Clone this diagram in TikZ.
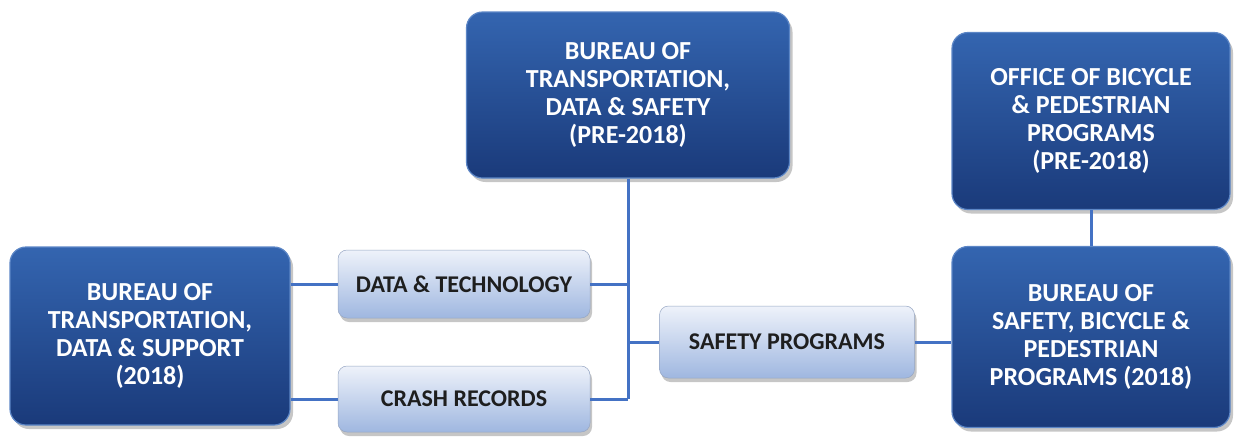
\documentclass[tikz,border=0pt]{standalone}
\usepackage{fontspec}
\setmainfont{Carlito}
\usetikzlibrary{shadows,calc}
\definecolor{lineblue}{HTML}{4472C4}
\definecolor{darktop}{HTML}{3465B0}
\definecolor{darkbot}{HTML}{1A3A7A}
\definecolor{darkedge}{HTML}{5C86C6}
\definecolor{lighttop}{HTML}{EEF2FA}
\definecolor{lightbot}{HTML}{9FB7E0}
\definecolor{lighttext}{HTML}{1E1E1E}
\tikzset{
  darkbox/.style={rounded corners=16pt, top color=darktop, bottom color=darkbot,
    draw=darkedge, line width=1.2pt,
    drop shadow={opacity=0.45, shadow xshift=3pt, shadow yshift=-4pt},
    text=white, font=\fontsize{26}{28}\selectfont\bfseries, align=center,
    inner sep=0pt},
  lightbox/.style={rounded corners=9pt, top color=lighttop, bottom color=lightbot,
    draw=lightbot!70!gray, line width=0.5pt,
    drop shadow={opacity=0.45, shadow xshift=2pt, shadow yshift=-4pt},
    text=lighttext, font=\fontsize{24}{26}\selectfont\bfseries, align=center,
    inner sep=0pt},
  conn/.style={draw=lineblue, line width=3pt}
}
\begin{document}
\begin{tikzpicture}[x=1pt,y=-1pt]
\useasboundingbox (0,0) rectangle (1236,437);
\node[darkbox, minimum width=280pt, minimum height=178pt] (left) at (150,336)
  {BUREAU OF\\TRANSPORTATION,\\DATA \& SUPPORT\\(2018)};
\node[darkbox, minimum width=323pt, minimum height=166pt] (top) at (628,95)
  {BUREAU OF\\TRANSPORTATION,\\DATA \& SAFETY\\(PRE-2018)};
\node[darkbox, minimum width=278pt, minimum height=177pt] (office) at (1091,121)
  {OFFICE OF BICYCLE\\\& PEDESTRIAN\\PROGRAMS\\(PRE-2018)};
\node[darkbox, minimum width=278pt, minimum height=181pt] (bsbp) at (1091,337)
  {BUREAU OF\\SAFETY, BICYCLE \&\\PEDESTRIAN\\PROGRAMS (2018)};
\node[lightbox, minimum width=252pt, minimum height=68pt] (dt) at (464,284)
  {DATA \& TECHNOLOGY};
\node[lightbox, minimum width=252pt, minimum height=66pt] (cr) at (464,399)
  {CRASH RECORDS};
\node[lightbox, minimum width=255pt, minimum height=72pt] (sp) at (787,342)
  {SAFETY PROGRAMS};
\coordinate (jsp) at (top.south |- sp.west);
\coordinate (jcr) at (top.south |- cr.east);
\draw[conn] (top.south) -- (jcr);
\draw[conn] (dt.east) -- (dt.east -| top.south);
\draw[conn] (cr.east) -- (jcr);
\draw[conn] (jsp) -- (sp.west);
\draw[conn] (left.east |- dt.west) -- (dt.west);
\draw[conn] (left.east |- cr.west) -- (cr.west);
\draw[conn] (sp.east) -- (sp.east -| bsbp.west);
\draw[conn] (office.south) -- (bsbp.north);
\end{tikzpicture}
\end{document}
